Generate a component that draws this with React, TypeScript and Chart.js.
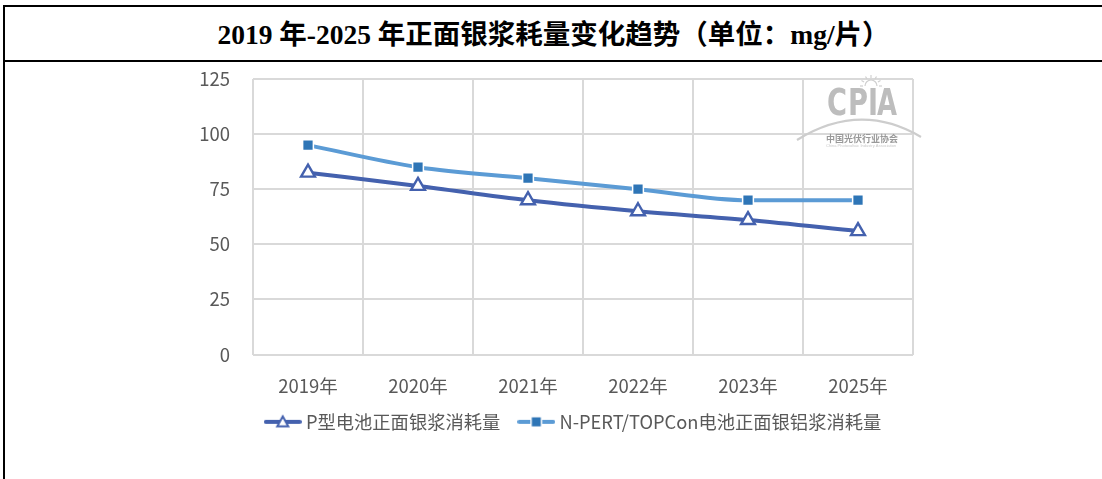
import React, { useEffect, useRef } from "react";
import { Chart, registerables } from "chart.js";

Chart.register(...registerables);

const categories = ["2019年", "2020年", "2021年", "2022年", "2023年", "2025年"];
const pTypeSilver = [82.5, 76.5, 70, 65, 61, 56];
const nTypeSilver = [95, 85, 80, 75, 70, 70];
const seriesNames = ["P型电池正面银浆消耗量", "N-PERT/TOPCon电池正面银铝浆消耗量"];
const yTicks = [0, 25, 50, 75, 100, 125];
const titleText = "2019 年-2025 年正面银浆耗量变化趋势（单位：mg/片）";

const P_COLOR = "#4461AE";
const N_LINE = "#5B9BD5";
const N_MARK = "#2E75B6";
const FONT = "'Noto Sans CJK SC', 'Noto Sans', sans-serif";

function makeLegendImage(kind: "tri" | "sq"): HTMLCanvasElement {
  const c = document.createElement("canvas");
  c.width = 38;
  c.height = 16;
  const ctx = c.getContext("2d")!;
  ctx.lineCap = "round";
  ctx.strokeStyle = kind === "tri" ? P_COLOR : N_LINE;
  ctx.lineWidth = 4;
  ctx.beginPath();
  ctx.moveTo(2, 8);
  ctx.lineTo(36, 8);
  ctx.stroke();
  if (kind === "tri") {
    ctx.fillStyle = "#fff";
    ctx.strokeStyle = P_COLOR;
    ctx.lineWidth = 2;
    ctx.lineCap = "butt";
    ctx.beginPath();
    ctx.moveTo(19, 2.5);
    ctx.lineTo(24.5, 12.5);
    ctx.lineTo(13.5, 12.5);
    ctx.closePath();
    ctx.fill();
    ctx.stroke();
  } else {
    ctx.fillStyle = "#fff";
    ctx.fillRect(13, 2, 12, 12);
    ctx.fillStyle = N_MARK;
    ctx.fillRect(14.5, 3.5, 9, 9);
  }
  return c;
}

const watermark = {
  id: "cpiaWatermark",
  afterDraw(chart: any) {
    const ctx = chart.ctx as CanvasRenderingContext2D;
    const rect = chart.canvas.getBoundingClientRect();
    const X = (v: number) => v - rect.left;
    const Y = (v: number) => v - rect.top;
    ctx.save();
    // sun
    ctx.strokeStyle = "#d0d0d0";
    ctx.lineWidth = 1.2;
    ctx.beginPath();
    ctx.arc(X(871), Y(86), 6, Math.PI, 2 * Math.PI);
    ctx.stroke();
    for (let i = 0; i < 7; i++) {
      const a = Math.PI + (i * Math.PI) / 6;
      ctx.beginPath();
      ctx.moveTo(X(871) + Math.cos(a) * 8, Y(86) + Math.sin(a) * 8);
      ctx.lineTo(X(871) + Math.cos(a) * 11, Y(86) + Math.sin(a) * 11);
      ctx.stroke();
    }
    // CPIA
    ctx.fillStyle = "#bdbdbd";
    ctx.font = "bold 38px 'DejaVu Sans Condensed', 'Liberation Sans Narrow', sans-serif";
    ctx.textBaseline = "alphabetic";
    ctx.textAlign = "left";
    const letters = ["C", "P", "I", "A"];
    const lx = [827, 848, 868, 877];
    letters.forEach((ch, i) => ctx.fillText(ch, X(lx[i]), Y(115), ch === "I" ? 10 : 20));
    // arc
    ctx.strokeStyle = "#cdcdcd";
    ctx.lineWidth = 2.2;
    ctx.beginPath();
    ctx.moveTo(X(797), Y(140));
    ctx.quadraticCurveTo(X(860), Y(101), X(921), Y(137));
    ctx.stroke();
    // chinese name
    ctx.fillStyle = "#999999";
    ctx.font = "bold 9.5px " + FONT;
    ctx.fillText("中国光伏行业协会", X(826), Y(142), 72);
    ctx.fillStyle = "#c8c8c8";
    ctx.font = "4px 'Liberation Sans', sans-serif";
    ctx.fillText("China Photovoltaic Industry Association", X(826), Y(147), 72);
    ctx.restore();
  },
};

const legendShift = {
  id: "legendShift",
  afterLayout(chart: any, _args: any, opts: any) {
    const l = chart.legend;
    if (!l) return;
    const dx = opts?.dx ?? 0;
    const dy = opts?.dy ?? 0;
    l.left += dx;
    l.right += dx;
    l.top += dy;
    l.bottom += dy;
  },
};

export default function App() {
  const ref = useRef<HTMLCanvasElement | null>(null);

  useEffect(() => {
    if (!ref.current) return;
    const triImg = makeLegendImage("tri");
    const sqImg = makeLegendImage("sq");
    const chart = new Chart(ref.current, {
      type: "line",
      data: {
        labels: categories,
        datasets: [
          {
            label: seriesNames[0],
            data: pTypeSilver,
            borderColor: P_COLOR,
            borderWidth: 4,
            pointStyle: "triangle",
            pointRadius: 8,
            pointBackgroundColor: "#ffffff",
            pointBorderColor: P_COLOR,
            pointBorderWidth: 2.4,
            cubicInterpolationMode: "monotone",
            fill: false,
          },
          {
            label: seriesNames[1],
            data: nTypeSilver,
            borderColor: N_LINE,
            borderWidth: 4,
            pointStyle: "rect",
            pointRadius: 7.6,
            pointBackgroundColor: N_MARK,
            pointBorderColor: "#ffffff",
            pointBorderWidth: 1.5,
            cubicInterpolationMode: "monotone",
            fill: false,
          },
        ],
      },
      options: {
        animation: false,
        responsive: false,
        maintainAspectRatio: false,
        layout: { padding: { left: 180, right: 189, top: 17, bottom: 12 } },
        scales: {
          x: {
            type: "category",
            offset: true,
            grid: { offset: true, color: "#d9d9d9", lineWidth: 2, drawTicks: false },
            border: { display: false },
            ticks: { color: "#595959", font: { family: FONT, size: 18.5 }, padding: 20 },
          },
          y: {
            min: 0,
            max: 125,
            afterBuildTicks(scale: any) {
              scale.ticks = yTicks.map((v) => ({ value: v }));
            },
            afterFit(scale: any) {
              scale.width = 68;
              scale.paddingTop = 11;
              scale.paddingBottom = 11;
            },
            grid: { color: "#d9d9d9", lineWidth: 2, drawTicks: false },
            border: { display: false },
            ticks: { color: "#595959", font: { family: FONT, size: 18.5 }, padding: 23 },
          },
        },
        plugins: {
          title: { display: false },
          tooltip: { enabled: false },
          legendShift: { dx: 26, dy: -26 },
          legend: {
            position: "bottom",
            labels: {
              usePointStyle: true,
              pointStyleWidth: 28,
              padding: 22,
              color: "#595959",
              font: { family: FONT, size: 18.3 },
              generateLabels: () => [
                { text: seriesNames[0], pointStyle: triImg, datasetIndex: 0, fontColor: "#595959", hidden: false, lineWidth: 0 },
                { text: seriesNames[1], pointStyle: sqImg, datasetIndex: 1, fontColor: "#595959", hidden: false, lineWidth: 0 },
              ],
            },
          },
        } as any,
      },
      plugins: [watermark, legendShift],
    });
    return () => chart.destroy();
  }, []);

  return (
    <div
      style={{
        position: "absolute",
        left: 0,
        top: 0,
        width: 1102,
        height: 479,
        background: "#fff",
        overflow: "hidden",
      }}
    >
      <div
        style={{
          position: "absolute",
          left: 3,
          top: 5,
          width: 1099,
          height: 474,
          borderLeft: "2px solid #000",
          borderTop: "2px solid #000",
          boxSizing: "border-box",
        }}
      />
      <div
        style={{
          position: "absolute",
          left: 3,
          top: 60,
          width: 1099,
          height: 2,
          background: "#000",
        }}
      />
      <div
        style={{
          position: "absolute",
          left: 5,
          top: 7,
          width: 1097,
          height: 49,
          display: "flex",
          alignItems: "center",
          justifyContent: "center",
          fontFamily: "'Liberation Serif', 'Noto Sans CJK SC', serif",
          fontWeight: "bold",
          fontSize: 27.5,
          color: "#000",
          whiteSpace: "nowrap",
        }}
      >
        {titleText}
      </div>
      <canvas
        ref={ref}
        width={1097}
        height={417}
        style={{ position: "absolute", left: 5, top: 62, width: 1097, height: 417 }}
      />
    </div>
  );
}
